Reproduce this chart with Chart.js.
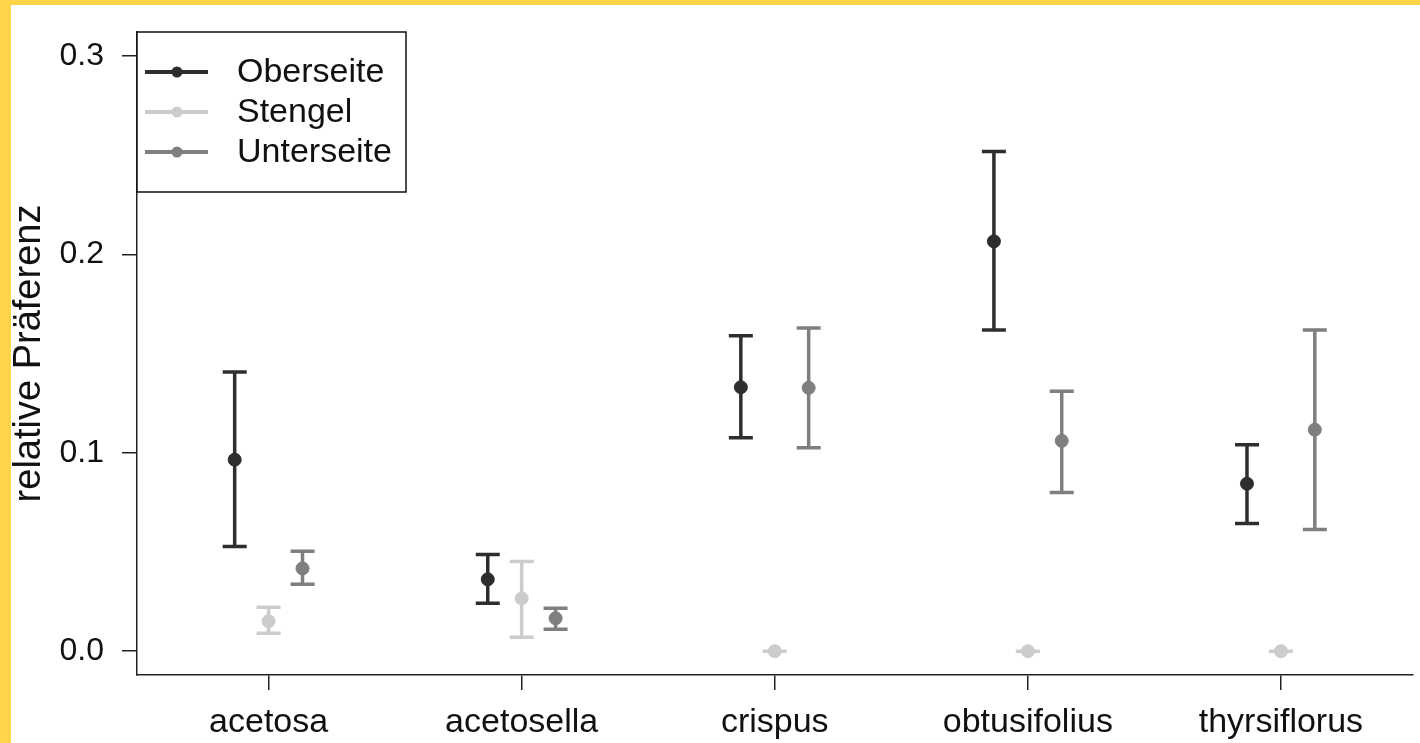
<!DOCTYPE html>
<html>
<head>
<meta charset="utf-8">
<script src="https://cdn.jsdelivr.net/npm/chart.js@4.4.1/dist/chart.umd.min.js"></script>
<style>
  html, body { margin: 0; padding: 0; background: #ffd54a; }
  canvas { display: block; }
</style>
</head>
<body>
<canvas id="myChart" width="1420" height="743"></canvas>
<script>
// Data
const categories = ["acetosa", "acetosella", "crispus", "obtusifolius", "thyrsiflorus"];
const series_names = ["Oberseite", "Stengel", "Unterseite"];

const oberseite_mean = [0.0965, 0.0362, 0.133, 0.2065, 0.0844];
const oberseite_lower = [0.0528, 0.0241, 0.1075, 0.1618, 0.0643];
const oberseite_upper = [0.1407, 0.0487, 0.159, 0.2518, 0.104];

const stengel_mean = [0.0151, 0.0266, 0, 0, 0];
const stengel_lower = [0.009, 0.007, 0, 0, 0];
const stengel_upper = [0.0221, 0.0452, 0, 0, 0];

const unterseite_mean = [0.0417, 0.0166, 0.1327, 0.106, 0.1116];
const unterseite_lower = [0.0337, 0.011, 0.1025, 0.08, 0.0613];
const unterseite_upper = [0.0503, 0.0216, 0.1628, 0.131, 0.1618];

const y_ticks = [0, 0.1, 0.2, 0.3];

// Styles
const colors = ["#2e2e2e", "#cccccc", "#7f7f7f"];
const dodge = [-0.134, 0, 0.134];
const font_family = "'Liberation Sans', Arial, sans-serif";
const font_size = 34;

const means = [oberseite_mean, stengel_mean, unterseite_mean];
const lowers = [oberseite_lower, stengel_lower, unterseite_lower];
const uppers = [oberseite_upper, stengel_upper, unterseite_upper];

const datasets = series_names.map((name, s) => ({
  label: name,
  data: means[s].map((v, i) => ({ x: i + 1 + dodge[s], y: v })),
  backgroundColor: colors[s],
  borderColor: colors[s],
  pointRadius: 6.5,
  pointHoverRadius: 6.5,
  lower: lowers[s],
  upper: uppers[s]
}));

// Yellow frame behind the white page
const backgroundPlugin = {
  id: "background",
  beforeDraw(chart) {
    const c = chart.ctx;
    c.save();
    c.fillStyle = "#ffd54a";
    c.fillRect(0, 0, chart.width, chart.height);
    c.fillStyle = "#ffffff";
    c.fillRect(11, 5, chart.width - 11, chart.height - 5);
    c.restore();
  }
};

// Error bars, drawn under the points
const errorBarPlugin = {
  id: "errorBars",
  beforeDatasetsDraw(chart) {
    const c = chart.ctx;
    const xs = chart.scales.x;
    const ys = chart.scales.y;
    c.save();
    c.lineWidth = 3.5;
    chart.data.datasets.forEach((ds) => {
      c.strokeStyle = ds.borderColor;
      ds.data.forEach((pt, i) => {
        const x = xs.getPixelForValue(pt.x);
        const yl = ys.getPixelForValue(ds.lower[i]);
        const yu = ys.getPixelForValue(ds.upper[i]);
        c.beginPath();
        c.moveTo(x, yl);
        c.lineTo(x, yu);
        c.moveTo(x - 12, yl);
        c.lineTo(x + 12, yl);
        c.moveTo(x - 12, yu);
        c.lineTo(x + 12, yu);
        c.stroke();
      });
    });
    c.restore();
  }
};

// Legend box in the top left corner of the plot
const legendPlugin = {
  id: "boxLegend",
  afterDraw(chart) {
    const c = chart.ctx;
    const area = chart.chartArea;
    const left = area.left;
    const top = area.top;
    c.save();
    c.strokeStyle = "#111";
    c.lineWidth = 1.5;
    c.fillStyle = "#fff";
    c.fillRect(left, top, 269, 160);
    c.strokeRect(left, top, 269, 160);
    c.font = font_size + "px " + font_family;
    c.textBaseline = "middle";
    chart.data.datasets.forEach((ds, s) => {
      const y = top + 40 + s * 40;
      c.strokeStyle = ds.borderColor;
      c.lineWidth = 4;
      c.beginPath();
      c.moveTo(left + 8, y);
      c.lineTo(left + 71, y);
      c.stroke();
      c.fillStyle = ds.borderColor;
      c.beginPath();
      c.arc(left + 40, y, 5.5, 0, Math.PI * 2);
      c.fill();
      c.fillStyle = "#111";
      c.fillText(ds.label, left + 100, y + 1);
    });
    c.restore();
  }
};

const ctx = document.getElementById("myChart").getContext("2d");
const myChart = new Chart(ctx, {
  type: "scatter",
  data: { datasets: datasets },
  plugins: [backgroundPlugin, errorBarPlugin, legendPlugin],
  options: {
    responsive: false,
    animation: false,
    devicePixelRatio: 1,
    layout: { padding: { left: 0, top: 32, right: 6, bottom: 0 } },
    plugins: {
      legend: { display: false },
      tooltip: { enabled: false }
    },
    scales: {
      x: {
        type: "linear",
        min: 0.48,
        max: 5.52,
        afterBuildTicks: (scale) => {
          scale.ticks = categories.map((c, i) => ({ value: i + 1 }));
        },
        afterFit: (scale) => {
          scale.height = 68;
          scale.paddingLeft = 0;
          scale.paddingRight = 0;
        },
        ticks: {
          callback: (value, index) => categories[index],
          color: "#111",
          font: { family: font_family, size: font_size },
          padding: 12,
          maxRotation: 0,
          autoSkip: false
        },
        grid: {
          drawOnChartArea: false,
          drawTicks: true,
          tickLength: 15,
          color: "#222",
          lineWidth: 1.5
        },
        border: { display: true, color: "#222", width: 1.5 }
      },
      y: {
        min: -0.012,
        max: 0.312,
        afterBuildTicks: (scale) => {
          scale.ticks = y_ticks.map((v) => ({ value: v }));
        },
        afterFit: (scale) => {
          scale.width = 137;
          scale.paddingTop = 0;
          scale.paddingBottom = 0;
        },
        ticks: {
          callback: (value) => value.toFixed(1),
          color: "#111",
          font: { family: font_family, size: 32 },
          padding: 18
        },
        grid: {
          drawOnChartArea: false,
          drawTicks: true,
          tickLength: 15,
          color: "#222",
          lineWidth: 1.5
        },
        border: { display: true, color: "#222", width: 1.5 },
        title: {
          display: true,
          text: "relative Präferenz",
          color: "#111",
          font: { family: font_family, size: 38 },
          padding: { top: 7, bottom: 0 }
        }
      }
    }
  }
});
</script>
</body>
</html>
